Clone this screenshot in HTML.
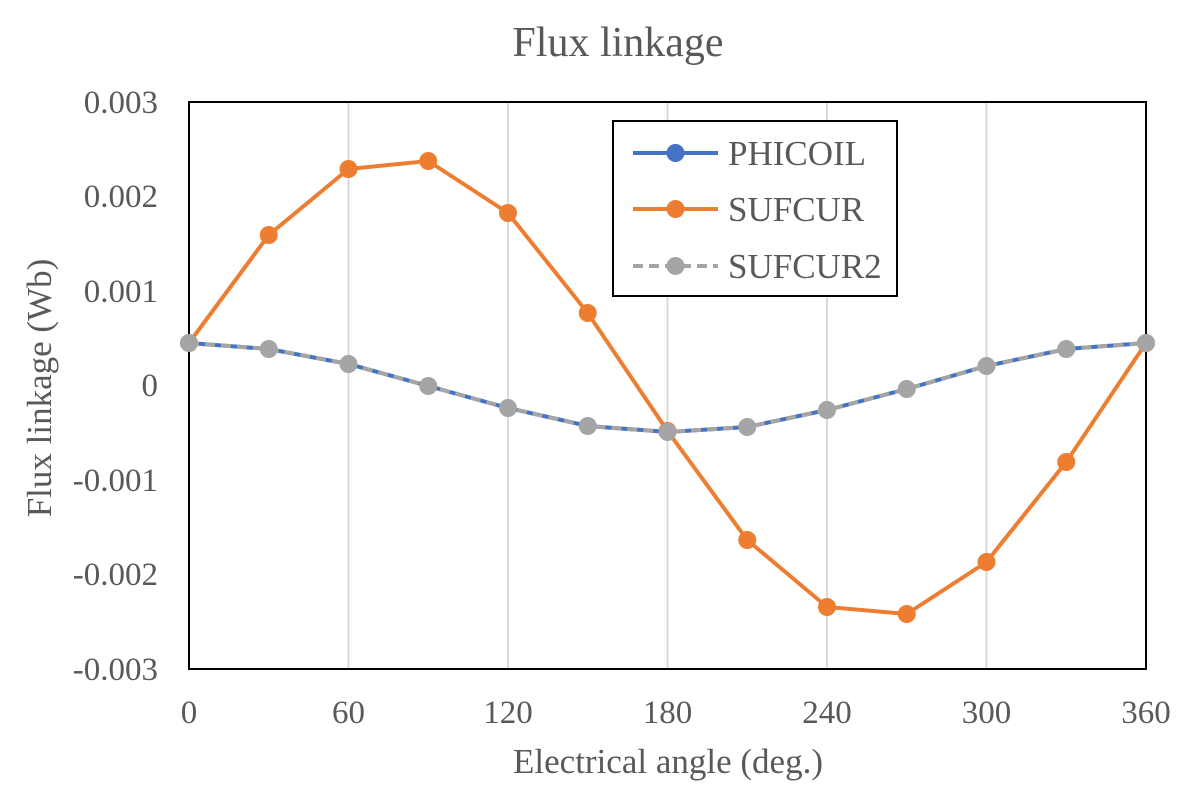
<!DOCTYPE html>
<html><head><meta charset="utf-8"><style>
html,body{margin:0;padding:0;background:#fff;}
svg text{font-family:"Liberation Serif",serif;fill:#595959;}
</style></head><body>
<svg width="1190" height="790" xmlns="http://www.w3.org/2000/svg">
<rect width="1190" height="790" fill="#fff"/>
<text x="618" y="56" font-size="42" text-anchor="middle">Flux linkage</text>
<g stroke="#d9d9d9" stroke-width="2">
<line x1="348.5" y1="102" x2="348.5" y2="669"/>
<line x1="508" y1="102" x2="508" y2="669"/>
<line x1="667.5" y1="102" x2="667.5" y2="669"/>
<line x1="827" y1="102" x2="827" y2="669"/>
<line x1="986.5" y1="102" x2="986.5" y2="669"/>
</g>
<rect x="189" y="102" width="957" height="567" fill="none" stroke="#000" stroke-width="2"/>
<g font-size="33" text-anchor="end">
<text x="158" y="113">0.003</text>
<text x="158" y="207">0.002</text>
<text x="158" y="302">0.001</text>
<text x="158" y="396">0</text>
<text x="158" y="491">-0.001</text>
<text x="158" y="585">-0.002</text>
<text x="158" y="680">-0.003</text>
</g>
<g font-size="33" text-anchor="middle">
<text x="189" y="723">0</text>
<text x="348.5" y="723">60</text>
<text x="508" y="723">120</text>
<text x="667.5" y="723">180</text>
<text x="827" y="723">240</text>
<text x="986.5" y="723">300</text>
<text x="1146" y="723">360</text>
</g>
<text x="668" y="773" font-size="35" text-anchor="middle">Electrical angle (deg.)</text>
<text transform="translate(51,388) rotate(-90)" font-size="35" text-anchor="middle">Flux linkage (Wb)</text>
<polyline fill="none" stroke="#ED7D31" stroke-width="4" points="189,343 268.75,235 348.5,169 428.25,161 508,213 587.75,313 667.5,431 747.25,540 827,607 906.75,614 986.5,562 1066.25,462 1146,343"/>
<g fill="#ED7D31">
<circle cx="189" cy="343" r="9"/><circle cx="268.75" cy="235" r="9"/><circle cx="348.5" cy="169" r="9"/><circle cx="428.25" cy="161" r="9"/><circle cx="508" cy="213" r="9"/><circle cx="587.75" cy="313" r="9"/><circle cx="667.5" cy="431" r="9"/><circle cx="747.25" cy="540" r="9"/><circle cx="827" cy="607" r="9"/><circle cx="906.75" cy="614" r="9"/><circle cx="986.5" cy="562" r="9"/><circle cx="1066.25" cy="462" r="9"/><circle cx="1146" cy="343" r="9"/>
</g>
<polyline fill="none" stroke="#4472C4" stroke-width="4" points="189,343 268.75,349 348.5,364 428.25,386 508,408 587.75,426 667.5,432 747.25,427 827,410 906.75,389 986.5,366 1066.25,349 1146,343"/>
<polyline fill="none" stroke="#A5A5A5" stroke-width="4" stroke-dasharray="10,6" points="189,343 268.75,349 348.5,364 428.25,386 508,408 587.75,426 667.5,432 747.25,427 827,410 906.75,389 986.5,366 1066.25,349 1146,343"/>
<g fill="#A5A5A5">
<circle cx="189" cy="343" r="9"/><circle cx="268.75" cy="349" r="9"/><circle cx="348.5" cy="364" r="9"/><circle cx="428.25" cy="386" r="9"/><circle cx="508" cy="408" r="9"/><circle cx="587.75" cy="426" r="9"/><circle cx="667.5" cy="432" r="9"/><circle cx="747.25" cy="427" r="9"/><circle cx="827" cy="410" r="9"/><circle cx="906.75" cy="389" r="9"/><circle cx="986.5" cy="366" r="9"/><circle cx="1066.25" cy="349" r="9"/><circle cx="1146" cy="343" r="9"/>
</g>
<rect x="613" y="121" width="284" height="175" fill="#fff" stroke="#000" stroke-width="2"/>
<line x1="633" y1="153" x2="718" y2="153" stroke="#4472C4" stroke-width="4"/>
<circle cx="675.5" cy="153" r="9" fill="#4472C4"/>
<text x="728" y="165" font-size="35">PHICOIL</text>
<line x1="633" y1="209" x2="718" y2="209" stroke="#ED7D31" stroke-width="4"/>
<circle cx="675.5" cy="209" r="9" fill="#ED7D31"/>
<text x="728" y="221" font-size="35">SUFCUR</text>
<line x1="633" y1="266" x2="718" y2="266" stroke="#A5A5A5" stroke-width="4" stroke-dasharray="10,6"/>
<circle cx="675.5" cy="266" r="9" fill="#A5A5A5"/>
<text x="728" y="278" font-size="35">SUFCUR2</text>
</svg>
</body></html>
